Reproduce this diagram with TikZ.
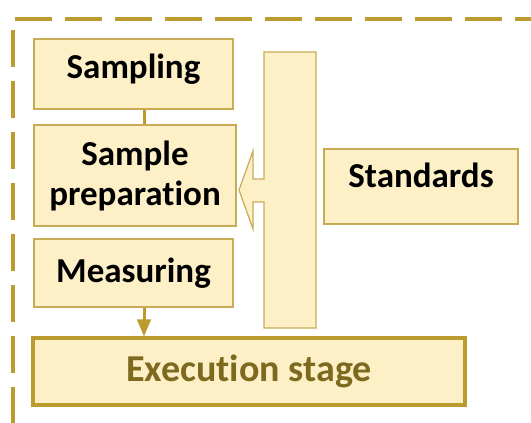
\documentclass[tikz,border=0pt]{standalone}
\usepackage{fontspec}
\setmainfont{Carlito}[Ligatures=NoCommon]
\usepackage{tikz}
\usetikzlibrary{positioning,arrows,shapes}
\definecolor{cream}{HTML}{FDEFC6}
\definecolor{goldline}{HTML}{C8AC55}
\definecolor{golddash}{HTML}{BB9A2E}
\definecolor{olivetext}{HTML}{7D6A1E}
\tikzstyle{stepbox} = [rectangle, draw=goldline, fill=cream, line width=1.2pt, align=center, font=\fontsize{35}{40}\selectfont\bfseries]
\tikzstyle{stagebox} = [rectangle, draw=golddash, fill=cream, line width=3.5pt, font=\fontsize{38}{42}\selectfont\bfseries, text=olivetext]
\tikzstyle{arrow} = [line width=3pt, draw=golddash, -triangle 45]

\begin{document}
\begin{tikzpicture}[x=1pt,y=-1pt]
		\useasboundingbox (0,0) rectangle (531,423);
		% outer frame
		\draw[golddash, line width=4.5pt, dash pattern=on 37pt off 14pt] (13,30) -- (13,423);
		\draw[golddash, line width=4.5pt, dash pattern=on 37pt off 13pt] (15,19) -- (540,19);

		% tall bar with the block arrow
		\draw[goldline, fill=cream, line width=1.2pt] (264,52) -- (316,52) -- (316,328) -- (264,328) -- (264,202) -- (253,202) -- (253,229) -- (239,190) -- (253,151) -- (253,179) -- (264,179) -- cycle;

		\node[stepbox, minimum width=199pt, minimum height=70pt, text depth=16pt] (sampling) at (133.5,74) {Sampling};
		\node[stepbox, minimum width=202pt, minimum height=101pt] (prep) at (135,175.5) {Sample\\preparation};
		\node[stepbox, minimum width=199pt, minimum height=68pt] (measuring) at (133.5,273) {Measuring};
		\node[stepbox, minimum width=194pt, minimum height=75pt, text depth=22pt] (standards) at (421,186.5) {Standards};
		\node[stagebox, minimum width=432pt, minimum height=67pt] (stage) at (249,371.5) {Execution stage};

		\draw[line width=3pt, golddash] (sampling.south -| 144,0) -- (prep.north -| 144,0);
		\draw[arrow] (measuring.south -| 144,0) -- (stage.north -| 144,0);
	\end{tikzpicture}
\end{document}
